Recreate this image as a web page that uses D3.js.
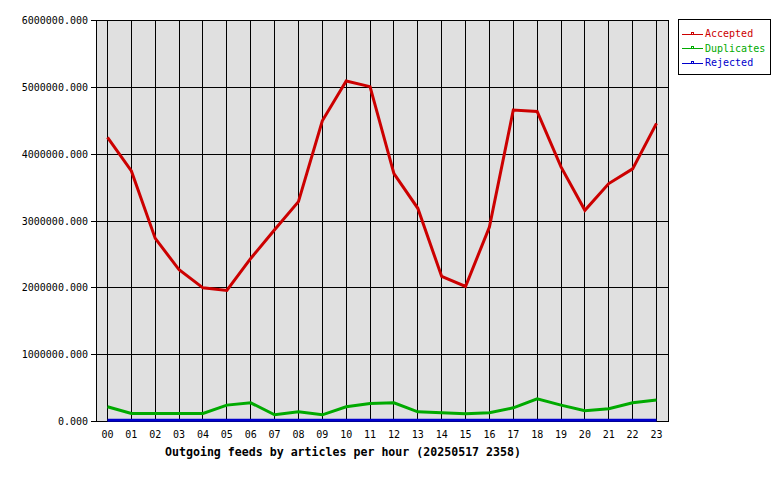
<!DOCTYPE html>
<html>
<head>
<meta charset="utf-8">
<script src="https://cdn.jsdelivr.net/npm/d3@7"></script>
<style>
  html, body { margin: 0; padding: 0; background: #ffffff; }
  svg { display: block; }
  text { font-family: "DejaVu Sans Mono", monospace; }
</style>
</head>
<body>
<script>
const hours = ["00","01","02","03","04","05","06","07","08","09","10","11","12","13","14","15","16","17","18","19","20","21","22","23"];
const accepted = [4250000,3750000,2740000,2270000,2000000,1960000,2440000,2870000,3290000,4500000,5095000,5010000,3710000,3190000,2170000,2020000,2910000,4660000,4640000,3810000,3160000,3560000,3780000,4460000];
const duplicates = [220000,120000,120000,120000,120000,245000,280000,100000,145000,100000,220000,270000,280000,145000,130000,115000,130000,205000,340000,245000,160000,190000,280000,320000];
const rejected = [20000,20000,20000,20000,20000,20000,20000,20000,20000,20000,20000,20000,20000,20000,20000,20000,20000,20000,20000,20000,20000,20000,20000,20000];
const yTicks = [0,1000000,2000000,3000000,4000000,5000000,6000000];
const seriesNames = ["Accepted","Duplicates","Rejected"];
const seriesColors = ["#cc0000","#00aa00","#0000cc"];
const title = "Outgoing feeds by articles per hour (20250517 2358)";

const W = 780, H = 480;
const plot = {left: 96.5, right: 668.5, top: 20.5, bottom: 422};
const svg = d3.select("body").append("svg").attr("width", W).attr("height", H);

const x = d3.scalePoint().domain(hours).range([107.5, 656.5]);
const y = d3.scaleLinear().domain([0, 6000000]).range([421.5, 20.5]);

// plot background
svg.append("rect")
  .attr("x", plot.left).attr("y", plot.top)
  .attr("width", plot.right - plot.left).attr("height", plot.bottom - plot.top - 0.5)
  .attr("fill", "#e0e0e0").attr("stroke", "#000").attr("stroke-width", 1)
  .attr("shape-rendering", "crispEdges");

// vertical grid
svg.append("g").selectAll("line").data(hours).join("line")
  .attr("x1", d => x(d)).attr("x2", d => x(d))
  .attr("y1", plot.top).attr("y2", plot.bottom)
  .attr("stroke", "#000").attr("stroke-width", 1).attr("shape-rendering", "crispEdges");

// horizontal grid + ticks
svg.append("g").selectAll("line").data(yTicks).join("line")
  .attr("x1", 91).attr("x2", plot.right)
  .attr("y1", d => y(d)).attr("y2", d => y(d))
  .attr("stroke", "#000").attr("stroke-width", 1).attr("shape-rendering", "crispEdges");

// y labels
svg.append("g").selectAll("text").data(yTicks).join("text")
  .attr("x", 88).attr("y", d => y(d)).attr("dy", "0.35em")
  .attr("text-anchor", "end").attr("font-size", "10px").attr("fill", "#000")
  .text(d => d3.format(".3f")(d));

// x labels
svg.append("g").selectAll("text").data(hours).join("text")
  .attr("x", d => x(d)).attr("y", 438)
  .attr("text-anchor", "middle").attr("font-size", "10px").attr("fill", "#000")
  .text(d => d);

// title
svg.append("text").attr("x", 343).attr("y", 456)
  .attr("text-anchor", "middle").attr("font-size", "11.6px").attr("font-weight", "bold")
  .attr("fill", "#000").text(title);

// lines
const line = d3.line().x((d, i) => x(hours[i])).y(d => y(d));
const allSeries = [accepted, duplicates, rejected];
[rejected, duplicates, accepted].forEach(s => {
  const idx = allSeries.indexOf(s);
  svg.append("path").datum(s).attr("d", line)
    .attr("fill", "none").attr("stroke", seriesColors[idx])
    .attr("stroke-width", 3).attr("stroke-linejoin", "miter");
});

// legend
const lg = svg.append("g");
lg.append("rect").attr("x", 678.5).attr("y", 19.5).attr("width", 92).attr("height", 55)
  .attr("fill", "#fff").attr("stroke", "#000").attr("stroke-width", 1).attr("shape-rendering", "crispEdges");
seriesNames.forEach((n, i) => {
  const yy = 33.5 + i * 14.7;
  const ry = Math.round(yy) + 0.5;
  lg.append("line").attr("x1", 682).attr("x2", 703).attr("y1", ry).attr("y2", ry)
    .attr("stroke", seriesColors[i]).attr("stroke-width", 1).attr("shape-rendering", "crispEdges");
  lg.append("rect").attr("x", 691.5).attr("y", ry - 2).attr("width", 2).attr("height", 2)
    .attr("fill", "#fff").attr("stroke", seriesColors[i]).attr("stroke-width", 1).attr("shape-rendering", "crispEdges");
  lg.append("text").attr("x", 705).attr("y", yy).attr("dy", "0.35em")
    .attr("font-size", "10px").attr("fill", seriesColors[i]).text(n);
});
</script>
</body>
</html>
